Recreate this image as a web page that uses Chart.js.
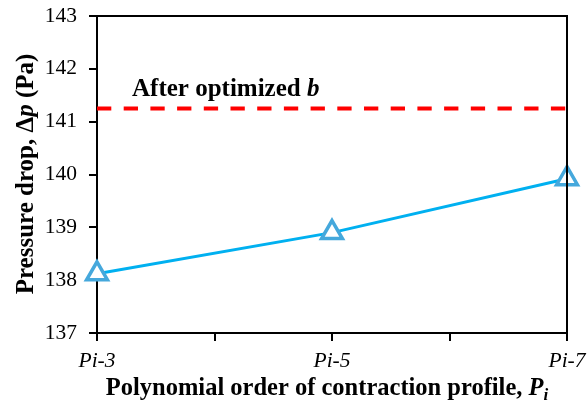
<!DOCTYPE html>
<html>
<head>
<meta charset="utf-8">
<script src="https://cdn.jsdelivr.net/npm/chart.js@4.4.1/dist/chart.umd.min.js"></script>
<style>
  body { margin: 0; background: #fff; }
  #wrap { width: 588px; height: 413px; }
</style>
</head>
<body>
<div id="wrap"><canvas id="dropChart" width="588" height="413"></canvas></div>
<script>
// polynomial order of the contraction profile and its label
const orders = [3, 5, 7];
const categories = ['Pi-3', 'Pi-5', 'Pi-7'];
// pressure drop (Pa) for each profile
const pressureDrop = [138.12, 138.9, 139.92];
// pressure drop after optimizing b (Pa)
const optimizedDrop = 141.25;

const SERIF = '"Liberation Serif", "Times New Roman", serif';

// draw a line of text made of several font runs, centred on cx
function drawRuns(ctx, runs, cx, baseline, align) {
    let total = 0;
    runs.forEach(r => { ctx.font = r.font; total += ctx.measureText(r.text).width; });
    let x = align === 'left' ? cx : cx - total / 2;
    ctx.textAlign = 'left';
    ctx.textBaseline = 'alphabetic';
    runs.forEach(r => {
        ctx.font = r.font;
        ctx.fillText(r.text, x, baseline + (r.dy || 0));
        x += ctx.measureText(r.text).width;
    });
}

const extras = {
    id: 'extras',
    afterDraw(chart) {
        const ctx = chart.ctx;
        const a = chart.chartArea;
        const y = chart.scales.y;
        ctx.save();
        // close the frame on top and right
        ctx.strokeStyle = '#000';
        ctx.lineWidth = 2;
        ctx.beginPath();
        ctx.moveTo(a.left, a.top);
        ctx.lineTo(a.right, a.top);
        ctx.lineTo(a.right, a.bottom);
        ctx.stroke();

        ctx.fillStyle = '#000';
        // label above the dashed line
        drawRuns(ctx, [
            { text: 'After optimized ', font: 'bold 25px ' + SERIF },
            { text: 'b', font: 'italic bold 25px ' + SERIF }
        ], 132, y.getPixelForValue(optimizedDrop) - 12, 'left');

        // x axis title
        drawRuns(ctx, [
            { text: 'Polynomial order of contraction profile, ', font: 'bold 24.5px ' + SERIF },
            { text: 'P', font: 'italic bold 24.5px ' + SERIF },
            { text: 'i', font: 'italic bold 17px ' + SERIF, dy: 5 }
        ], 327, 395);

        // y axis title
        ctx.translate(33, 174);
        ctx.rotate(-Math.PI / 2);
        drawRuns(ctx, [
            { text: 'Pressure drop, \u0394', font: 'bold 25px ' + SERIF },
            { text: 'p', font: 'italic bold 25px ' + SERIF },
            { text: ' (Pa)', font: 'bold 25px ' + SERIF }
        ], 0, 0);
        ctx.restore();
    }
};

new Chart(document.getElementById('dropChart').getContext('2d'), {
    type: 'line',
    data: {
        datasets: [{
            label: 'Pressure drop',
            data: orders.map((o, i) => ({ x: o, y: pressureDrop[i] })),
            borderColor: '#00B0F0',
            borderWidth: 3,
            pointStyle: 'triangle',
            pointRadius: 12,
            pointBorderWidth: 3.5,
            pointBorderColor: '#45A8DC',
            pointBackgroundColor: '#fff',
            clip: false,
            order: 1
        }, {
            label: 'After optimized b',
            data: [{ x: orders[0], y: optimizedDrop }, { x: orders[orders.length - 1], y: optimizedDrop }],
            borderColor: '#FF0000',
            borderWidth: 4,
            borderDash: [14.3, 12.4],
            borderCapStyle: 'butt',
            pointRadius: 0,
            order: 2
        }]
    },
    options: {
        responsive: false,
        animation: false,
        layout: { padding: { top: 16, right: 21, left: 0, bottom: 0 } },
        plugins: { legend: { display: false }, tooltip: { enabled: false } },
        scales: {
            x: {
                type: 'linear',
                min: 3,
                max: 7,
                afterFit: s => { s.height = 80; s.paddingLeft = 0; s.paddingRight = 0; },
                border: { color: '#000', width: 2 },
                grid: { drawOnChartArea: false, tickLength: 8, color: '#000', lineWidth: 2 },
                ticks: {
                    stepSize: 1,
                    padding: 7,
                    color: '#000',
                    font: { family: SERIF, size: 21.5, style: 'italic' },
                    callback: v => {
                        const i = orders.indexOf(v);
                        return i >= 0 ? categories[i] : '';
                    }
                }
            },
            y: {
                min: 137,
                max: 143,
                afterFit: s => { s.width = 97; s.paddingTop = 0; s.paddingBottom = 0; },
                border: { color: '#000', width: 2 },
                grid: { drawOnChartArea: false, tickLength: 8, color: '#000', lineWidth: 2 },
                ticks: {
                    stepSize: 0.5,
                    padding: 12,
                    color: '#000',
                    font: { family: SERIF, size: 21.5 },
                    callback: v => (Number.isInteger(v) ? v : '')
                }
            }
        }
    },
    plugins: [extras]
});
</script>
</body>
</html>
